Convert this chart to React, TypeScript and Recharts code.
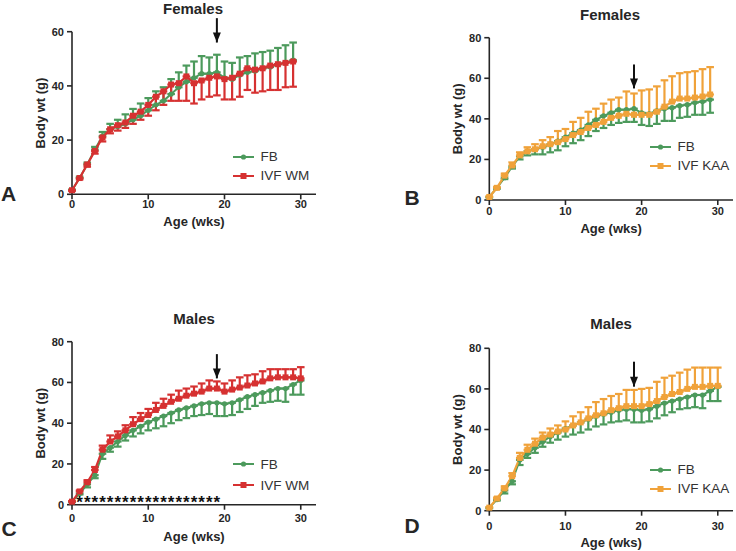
import React from "react";
import {
  ComposedChart,
  Line,
  XAxis,
  YAxis,
  ErrorBar,
  Legend,
  ReferenceLine,
  ReferenceDot,
} from "recharts";

const FONT = '"Liberation Sans", Arial, Helvetica, sans-serif';
const INK = "#262626";
const GREEN = "#4c9a5c";
const RED = "#d63131";
const ORANGE = "#f0a23a";

// weeks
const weeksF = [0, 1, 2, 3, 4, 5, 6, 7, 8, 9, 10, 11, 12, 13, 14, 15, 16, 17, 18, 19, 20, 21, 22, 23, 24, 25, 26, 27, 28, 29];
const weeksM = [0, 1, 2, 3, 4, 5, 6, 7, 8, 9, 10, 11, 12, 13, 14, 15, 16, 17, 18, 19, 20, 21, 22, 23, 24, 25, 26, 27, 28, 29, 30];

// females
const femFb = [1.5, 6, 11, 16.5, 21.5, 24, 25, 26, 27.5, 29, 31, 33, 34.5, 37, 39.5, 41.5, 43, 44.5, 44.5, 45, 43, 42.5, 44, 45, 45.5, 46.5, 47, 48, 48.5, 49.5];
const femFbSd = [0.3, 0.5, 0.7, 1, 1.5, 2, 2.5, 3.5, 4, 4.5, 4.5, 5, 5, 5.5, 5.5, 6, 6, 6.5, 6, 6.5, 6, 6, 6.5, 6, 6.5, 6, 6, 6, 6.5, 6.5];
const femWm = [1.5, 6, 11, 16, 21, 24, 25.5, 26.5, 29, 30.5, 33, 36, 38, 40.5, 41, 43.5, 41, 42, 43, 43.5, 42.5, 43, 44.5, 46.5, 46, 46.5, 47.5, 48, 48.5, 49];
const femWmSd = [0.3, 0.5, 0.8, 1, 1.5, 1.5, 2, 2, 3, 3, 4, 5, 5, 6, 6.5, 9, 7.5, 7, 7, 7, 7.5, 8, 8.5, 8, 8.5, 8.5, 9, 9.5, 9, 9.3];
const femKaa = [1.5, 6, 12, 17, 22, 24, 25, 26.5, 27.5, 28.5, 30, 32, 33.5, 35.5, 37, 38.5, 40.5, 41.5, 42.5, 42, 42, 42, 43.5, 46, 48.5, 50, 50, 50.5, 51, 52];
const femKaaSd = [0.3, 0.5, 1, 1.5, 1.5, 2, 2.5, 3, 3.5, 5.5, 5, 6.5, 7, 8, 8, 9, 9, 9, 11, 10.5, 12, 12.5, 12.5, 13, 12.5, 12.5, 13, 13, 13.5, 13.5];

// males
const malFb = [1.5, 5.5, 10, 14.5, 25, 28, 31, 34, 36.5, 38.5, 40.5, 42, 43.5, 45, 46.5, 47.5, 48.5, 49.5, 50, 50, 49.5, 50, 51.5, 53, 54, 55, 56, 57, 57, 59, 61];
const malFbSd = [0.3, 0.5, 1.5, 1.5, 2.5, 2, 2.5, 2.5, 3, 3.5, 4, 4.5, 5, 5, 5, 5, 5, 5.5, 5.5, 6.5, 6, 6, 6, 6, 5.5, 5, 5.5, 6, 6.5, 5, 7];
const malWm = [1.5, 6.5, 11, 17, 27, 31, 33.5, 36.5, 39.5, 42, 44, 46.5, 48.5, 50.5, 52, 53.5, 54.5, 55.5, 57, 57, 55.5, 56.5, 57.5, 58.5, 59.5, 60.5, 62, 62.5, 62.5, 62.5, 62];
const malWmSd = [0.3, 0.5, 1, 1.5, 2, 3, 2.5, 2.5, 3.5, 3, 3, 3.5, 3.5, 3.5, 4, 3.5, 3.5, 4, 4, 3.5, 4, 4.5, 5, 5, 4.5, 5, 4.5, 4, 4, 4, 5.5];
const malKaa = [1.5, 6, 11, 17, 26, 30, 33, 36, 37.5, 39, 40, 42, 43.5, 45.5, 47, 48, 49.5, 50.5, 51.5, 51.5, 51.5, 52.5, 54, 56, 57.5, 58.5, 60, 61, 61, 61.5, 61.5];
const malKaaSd = [0.3, 0.5, 1, 1.5, 2.5, 2.5, 2.5, 2.5, 3, 3, 4, 4.5, 5, 5.5, 6.5, 7, 7, 7, 8, 8, 8.5, 8, 9.5, 9.5, 9, 9.5, 9.5, 9.5, 9.5, 9, 9];

// weeks marked * in panel C
const malWmSigWeeks = [1, 2, 3, 4, 5, 6, 7, 8, 9, 10, 11, 12, 13, 14, 15, 16, 17, 18, 19];
const STAR_LEVEL = 2.8;

const xTicks = [0, 10, 20, 30];
const yTicks60 = [0, 20, 40, 60];
const yTicks80 = [0, 20, 40, 60, 80];

type Row = {
  week: number;
  fb: number;
  fbErr: [number, number];
  ivf: number;
  ivfErr: [number, number];
  sig: number | null;
};

// fbUp: FB bars go up and IVF bars go down (panel A), otherwise reversed
function buildRows(
  weeks: number[],
  fb: number[],
  fbSd: number[],
  ivf: number[],
  ivfSd: number[],
  fbUp: boolean,
  sigWeeks: number[] = []
): Row[] {
  return weeks.map((w, i) => ({
    week: w,
    fb: fb[i],
    fbErr: fbUp ? [0, fbSd[i]] : [fbSd[i], 0],
    ivf: ivf[i],
    ivfErr: fbUp ? [ivfSd[i], 0] : [0, ivfSd[i]],
    sig: sigWeeks.includes(w) ? STAR_LEVEL : null,
  }));
}

const circleDot = (color: string) => (p: any) => {
  if (p.cx == null || p.cy == null) return <g key={`c-${p.index}`} />;
  return <circle key={`c-${p.index}`} cx={p.cx} cy={p.cy} r={2.6} fill={color} />;
};

const squareDot = (color: string) => (p: any) => {
  if (p.cx == null || p.cy == null) return <g key={`s-${p.index}`} />;
  return <rect key={`s-${p.index}`} x={p.cx - 3} y={p.cy - 3} width={6} height={6} fill={color} />;
};

const starDot = (p: any) => {
  if (p.cx == null || p.cy == null || p.payload?.sig == null) return <g key={`st-${p.index}`} />;
  return (
    <text
      key={`st-${p.index}`}
      x={p.cx}
      y={p.cy + 9.5}
      textAnchor="middle"
      fontSize={17}
      fontWeight="bold"
      fontFamily={FONT}
      fill="#111"
    >
      *
    </text>
  );
};

interface PanelProps {
  box: { left: number; top: number; width: number; height: number };
  plot: { left: number; top: number; right: number; bottom: number };
  yMax: number;
  yTicks: number[];
  title: string;
  titlePos: [number, number];
  letter: string;
  letterPos: [number, number];
  data: Row[];
  ivfName: string;
  ivfColor: string;
  arrow: { tail: number; tip: number };
  legend: { x: number; y: number; gap: number };
  xTickMargin: number;
  xLabelOffset: number;
  stars?: boolean;
}

function Panel(props: PanelProps) {
  const { box, plot, data, ivfColor } = props;
  const xAxisH = 38;
  const margin = {
    top: plot.top - box.top,
    right: box.left + box.width - plot.right,
    left: 0,
    bottom: box.top + box.height - plot.bottom - xAxisH,
  };
  const tickStyle = { fill: INK, fontSize: 11, fontWeight: "bold", fontFamily: FONT };
  const axisStroke = { stroke: INK, strokeWidth: 1.6 };

  const legendRows = [
    { name: "FB", color: GREEN, square: false },
    { name: props.ivfName, color: ivfColor, square: true },
  ];

  return (
    <>
      <div style={{ position: "absolute", left: box.left, top: box.top, width: box.width, height: box.height }}>
        <ComposedChart width={box.width} height={box.height} data={data} margin={margin}>
          <XAxis
            dataKey="week"
            type="number"
            domain={[0, 32]}
            ticks={xTicks}
            interval={0}
            height={xAxisH}
            tickSize={5}
            tickMargin={props.xTickMargin}
            axisLine={axisStroke}
            tickLine={axisStroke}
            tick={tickStyle}
            label={{
              content: (lp: any) => {
                const vb = lp.viewBox || {};
                return (
                  <text
                    x={vb.x + vb.width / 2}
                    y={vb.y + props.xLabelOffset}
                    textAnchor="middle"
                    dominantBaseline="central"
                    fontSize={13}
                    fontWeight="bold"
                    fontFamily={FONT}
                    fill={INK}
                  >
                    Age (wks)
                  </text>
                );
              },
            }}
          />
          <YAxis
            type="number"
            domain={[0, props.yMax]}
            ticks={props.yTicks}
            interval={0}
            width={plot.left - box.left}
            tickSize={5}
            tickMargin={3}
            axisLine={axisStroke}
            tickLine={axisStroke}
            tick={tickStyle}
            label={{
              content: (lp: any) => {
                const vb = lp.viewBox || {};
                const x = vb.x + vb.width - 31.5;
                const y = vb.y + vb.height / 2;
                return (
                  <text
                    x={x}
                    y={y}
                    transform={`rotate(-90, ${x}, ${y})`}
                    textAnchor="middle"
                    dominantBaseline="central"
                    fontSize={13}
                    fontWeight="bold"
                    fontFamily={FONT}
                    fill={INK}
                  >
                    Body wt (g)
                  </text>
                );
              },
            }}
          />
          <Line
            dataKey="fb"
            name="FB"
            stroke={GREEN}
            strokeWidth={2}
            dot={circleDot(GREEN)}
            activeDot={false}
            isAnimationActive={false}
          >
            <ErrorBar dataKey="fbErr" direction="y" width={3.8} stroke={GREEN} strokeWidth={2.2} />
          </Line>
          <Line
            dataKey="ivf"
            name={props.ivfName}
            stroke={ivfColor}
            strokeWidth={2.2}
            dot={squareDot(ivfColor)}
            activeDot={false}
            isAnimationActive={false}
          >
            <ErrorBar dataKey="ivfErr" direction="y" width={3.8} stroke={ivfColor} strokeWidth={2.2} />
          </Line>
          {props.stars && (
            <Line
              dataKey="sig"
              stroke="none"
              dot={starDot}
              activeDot={false}
              legendType="none"
              isAnimationActive={false}
            />
          )}
          <ReferenceLine
            segment={[
              { x: 19, y: props.arrow.tail },
              { x: 19, y: props.arrow.tip },
            ]}
            stroke="#111"
            strokeWidth={2}
            ifOverflow="visible"
          />
          <ReferenceDot
            x={19}
            y={props.arrow.tip}
            ifOverflow="visible"
            shape={(sp: any) => (
              <path
                d={`M${sp.cx - 4},${sp.cy - 10} L${sp.cx + 4},${sp.cy - 10} L${sp.cx},${sp.cy} Z`}
                fill="#111"
              />
            )}
          />
          <Legend
            layout="vertical"
            align="center"
            verticalAlign="middle"
            wrapperStyle={{
              left: props.legend.x - box.left,
              top: props.legend.y - box.top - props.legend.gap / 2,
              width: 120,
            }}
            content={() => (
              <div>
                {legendRows.map((r) => (
                  <div
                    key={r.name}
                    style={{ height: props.legend.gap, display: "flex", alignItems: "center" }}
                  >
                    <svg width={21} height={10}>
                      <line x1={0} y1={5} x2={21} y2={5} stroke={r.color} strokeWidth={2} />
                      {r.square ? (
                        <rect x={7.5} y={2} width={6} height={6} fill={r.color} />
                      ) : (
                        <circle cx={10.5} cy={5} r={2.6} fill={r.color} />
                      )}
                    </svg>
                    <span
                      style={{
                        marginLeft: 6.5,
                        fontSize: 13.5,
                        fontFamily: FONT,
                        color: "#333",
                        lineHeight: 1,
                        whiteSpace: "nowrap",
                      }}
                    >
                      {r.name}
                    </span>
                  </div>
                ))}
              </div>
            )}
          />
        </ComposedChart>
      </div>
      <div
        style={{
          position: "absolute",
          left: props.titlePos[0],
          top: props.titlePos[1],
          transform: "translate(-50%, -50%)",
          fontSize: 15,
          fontWeight: "bold",
          fontFamily: FONT,
          color: INK,
          lineHeight: 1,
          whiteSpace: "nowrap",
        }}
      >
        {props.title}
      </div>
      <div
        style={{
          position: "absolute",
          left: props.letterPos[0],
          top: props.letterPos[1],
          transform: "translate(-50%, -50%)",
          fontSize: 21,
          fontWeight: "bold",
          fontFamily: FONT,
          color: INK,
          lineHeight: 1,
        }}
      >
        {props.letter}
      </div>
    </>
  );
}

const dataA = buildRows(weeksF, femFb, femFbSd, femWm, femWmSd, true);
const dataB = buildRows(weeksF, femFb, femFbSd, femKaa, femKaaSd, false);
const dataC = buildRows(weeksM, malFb, malFbSd, malWm, malWmSd, false, malWmSigWeeks);
const dataD = buildRows(weeksM, malFb, malFbSd, malKaa, malKaaSd, false);

export default function App() {
  return (
    <div
      style={{
        position: "absolute",
        left: 0,
        top: 0,
        width: 736,
        height: 551,
        background: "#fff",
        overflow: "hidden",
      }}
    >
      <Panel
        box={{ left: 0, top: 0, width: 340, height: 240 }}
        plot={{ left: 72, top: 31.7, right: 316, bottom: 194.3 }}
        yMax={60}
        yTicks={yTicks60}
        title="Females"
        titlePos={[193, 7.5]}
        letter="A"
        letterPos={[8.5, 193]}
        data={dataA}
        ivfName="IVF WM"
        ivfColor={RED}
        arrow={{ tail: 65, tip: 56 }}
        legend={{ x: 233, y: 156.7, gap: 19 }}
        xTickMargin={1}
        xLabelOffset={27.5}
      />
      <Panel
        box={{ left: 380, top: 0, width: 356, height: 245 }}
        plot={{ left: 489.3, top: 37.7, right: 733, bottom: 200 }}
        yMax={80}
        yTicks={yTicks80}
        title="Females"
        titlePos={[610, 14]}
        letter="B"
        letterPos={[412, 197]}
        data={dataB}
        ivfName="IVF KAA"
        ivfColor={ORANGE}
        arrow={{ tail: 66.8, tip: 55 }}
        legend={{ x: 650, y: 147, gap: 19 }}
        xTickMargin={2}
        xLabelOffset={28.5}
      />
      <Panel
        box={{ left: 0, top: 270, width: 340, height: 281 }}
        plot={{ left: 72, top: 341.7, right: 316, bottom: 504.7 }}
        yMax={80}
        yTicks={yTicks80}
        title="Males"
        titlePos={[194, 317.7]}
        letter="C"
        letterPos={[9, 528]}
        data={dataC}
        ivfName="IVF WM"
        ivfColor={RED}
        arrow={{ tail: 73.9, tip: 62 }}
        legend={{ x: 233, y: 464.3, gap: 21 }}
        xTickMargin={4.5}
        xLabelOffset={31.3}
        stars
      />
      <Panel
        box={{ left: 380, top: 270, width: 356, height: 281 }}
        plot={{ left: 489.3, top: 348.3, right: 733, bottom: 510.7 }}
        yMax={80}
        yTicks={yTicks80}
        title="Males"
        titlePos={[611, 323.3]}
        letter="D"
        letterPos={[412, 525]}
        data={dataD}
        ivfName="IVF KAA"
        ivfColor={ORANGE}
        arrow={{ tail: 73.4, tip: 61.1 }}
        legend={{ x: 650, y: 470, gap: 19 }}
        xTickMargin={6}
        xLabelOffset={32}
      />
    </div>
  );
}
